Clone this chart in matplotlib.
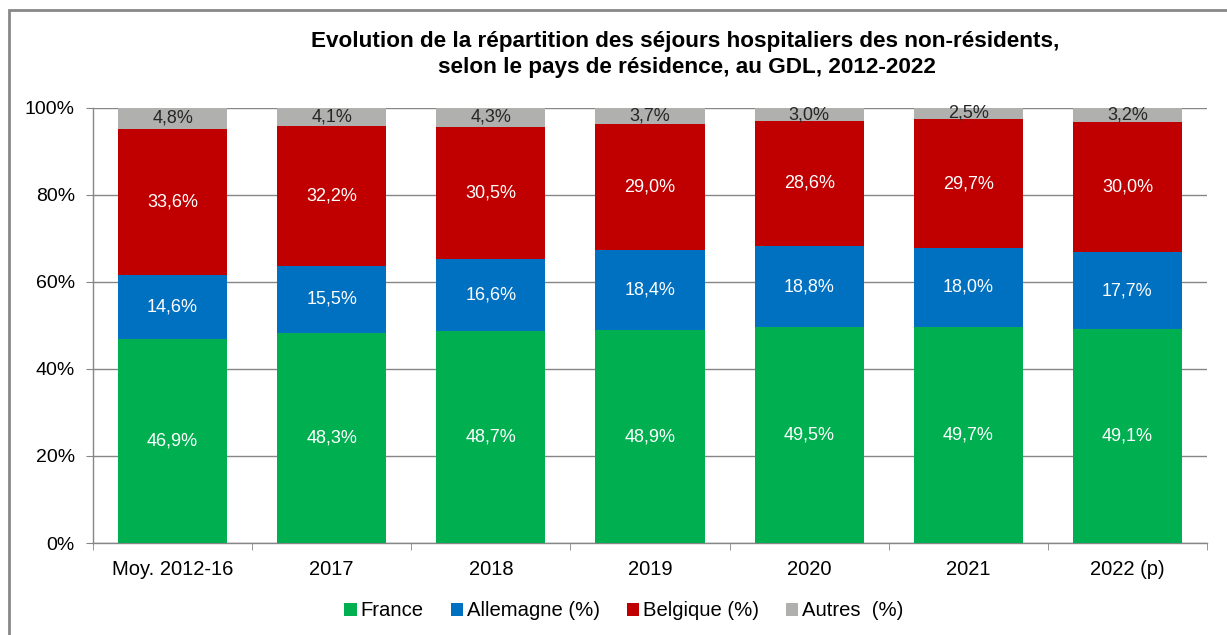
import numpy as np
import matplotlib.pyplot as plt
from matplotlib.patches import Rectangle

plt.rcParams['font.family'] = ['Liberation Sans', 'DejaVu Sans']

# Data (share of stays, %)
categories = ["Moy. 2012-16", "2017", "2018", "2019", "2020", "2021", "2022 (p)"]
france = [46.9, 48.3, 48.7, 48.9, 49.5, 49.7, 49.1]
allemagne = [14.6, 15.5, 16.6, 18.4, 18.8, 18.0, 17.7]
belgique = [33.6, 32.2, 30.5, 29.0, 28.6, 29.7, 30.0]
autres = [4.8, 4.1, 4.3, 3.7, 3.0, 2.5, 3.2]

series = [
    ("France", france, "#00B050", "white"),
    ("Allemagne (%)", allemagne, "#0070C0", "white"),
    ("Belgique (%)", belgique, "#C00000", "white"),
    ("Autres  (%)", autres, "#B0B1AF", "#262626"),
]

W, H = 1227, 635
fig = plt.figure(figsize=(W / 100, H / 100), dpi=100)
ax = fig.add_axes([93 / W, 1 - 543 / H, (1207 - 93) / W, (543 - 108) / H])

# outer frame of the chart object
fig.patches.append(Rectangle((9 / W, -0.1), 1.2, 1 - 10 / H + 0.1, transform=fig.transFigure,
                             fill=False, edgecolor="#878787", linewidth=2))

x = np.arange(len(categories))
totals = np.sum([s[1] for s in series], axis=0)
bottom = np.zeros(len(categories))
for name, vals, color, tcolor in series:
    v = np.array(vals) / totals * 100
    ax.bar(x, v, width=0.685, bottom=bottom, color=color, label=name, zorder=3)
    for xi, b, h, lab in zip(x, bottom, v, vals):
        ax.text(xi, b + h / 2, f"{lab:.1f}%".replace(".", ","), ha="center", va="center",
                color=tcolor, fontsize=13, zorder=4)
    bottom += v

ax.set_xlim(-0.5, len(categories) - 0.5)
ax.set_ylim(0, 100)
ax.set_yticks(np.arange(0, 101, 20))
ax.set_yticklabels([f"{t}%" for t in range(0, 101, 20)], fontsize=14)
ax.set_xticks(x)
ax.set_xticklabels(categories, fontsize=14.5)
ax.tick_params(axis="x", length=0, pad=12)
ax.set_xticks(np.arange(-0.5, len(categories), 1), minor=True)
ax.tick_params(axis="x", which="minor", length=5, color="#868686")
ax.tick_params(axis="y", length=5, color="#868686", pad=8)
ax.grid(axis="y", color="#868686", linewidth=1, zorder=0)
for s in ["top", "right"]:
    ax.spines[s].set_visible(False)
for s in ["left", "bottom"]:
    ax.spines[s].set_color("#868686")
    ax.spines[s].set_linewidth(1)

fig.text(685 / W, 1 - 42 / H, "Evolution de la répartition des séjours hospitaliers des non-résidents,",
         ha="center", va="center", fontsize=16.2, fontweight="bold")
fig.text(687 / W, 1 - 68 / H, "selon le pays de résidence, au GDL, 2012-2022",
         ha="center", va="center", fontsize=16.2, fontweight="bold")

fig.legend(loc="center", bbox_to_anchor=(624 / W, 1 - 611 / H), ncol=4, frameon=False,
           fontsize=14.6, handlelength=0.6, handleheight=0.6, handletextpad=0.2, columnspacing=1.33)

fig.savefig("out.png", dpi=100)
